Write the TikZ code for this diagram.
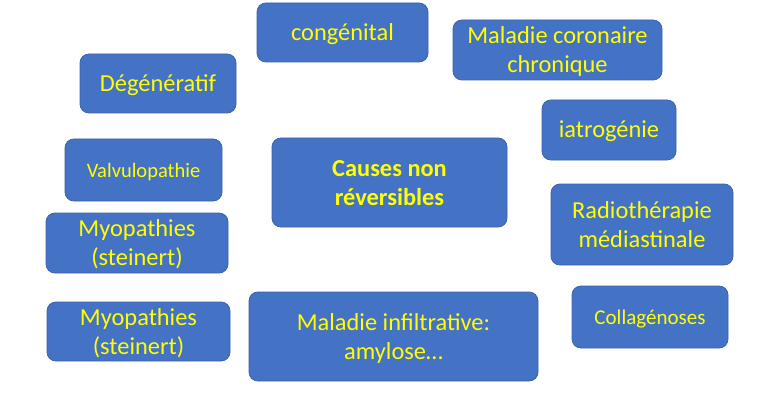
\documentclass[tikz,border=0pt]{standalone}
\usepackage{fontspec}
\setmainfont{Carlito}
\definecolor{boxblue}{HTML}{4472C4}
\definecolor{boxedge}{HTML}{3A63AD}
\definecolor{txtyellow}{HTML}{FFFF00}
\newcommand\topst{\rule{0pt}{22pt}}
\newcommand\botst{\rule[-6pt]{0pt}{6pt}}
\begin{document}
\begin{tikzpicture}[x=1pt,y=-1pt,
  box/.style={draw=boxedge, fill=boxblue, rounded corners=9pt, text=txtyellow,
    align=center, inner sep=0pt, line width=0.8pt,
    font=\fontsize{24.4}{29}\selectfont},
  smallbox/.style={box, font=\fontsize{20.5}{25}\selectfont}]
\useasboundingbox[fill=white] (0,0) rectangle (768,401);
\node[box, minimum width=171, minimum height=59] (cong) at (342.5,32.5) {\topst congénital\botst};
\node[box, minimum width=209, minimum height=60] (coro) at (557.5,50) {\topst Maladie coronaire\\chronique\botst};
\node[box, minimum width=156, minimum height=59] (dege) at (158,83.5) {\topst Dégénératif\botst};
\node[box, minimum width=134, minimum height=60] (iatr) at (609,130) {\topst iatrogénie\botst};
\node[smallbox, minimum width=157, minimum height=62] (valv) at (143.5,170) {\rule{0pt}{19pt}Valvulopathie\rule[-5pt]{0pt}{5pt}};
\node[box, minimum width=235, minimum height=89, font=\fontsize{24.4}{29}\selectfont\bfseries] (caus) at (389.5,182.5) {\topst Causes non\\réversibles\botst};
\node[box, minimum width=182, minimum height=81] (radi) at (642,224.5) {\topst Radiothérapie\\médiastinale\botst};
\node[box, minimum width=182, minimum height=60] (myo1) at (137,243) {\topst Myopathies\\(steinert)\botst};
\node[box, minimum width=183, minimum height=59] (myo2) at (138.5,331.5) {\topst Myopathies\\(steinert)\botst};
\node[box, minimum width=289, minimum height=89] (infi) at (393.5,336.5) {\topst Maladie infiltrative:\\amylose…\botst};
\node[smallbox, minimum width=156, minimum height=62, font=\fontsize{21}{25}\selectfont] (coll) at (650,317) {\rule{0pt}{19pt}Collagénoses\rule[-5pt]{0pt}{5pt}};
\end{tikzpicture}
\end{document}
